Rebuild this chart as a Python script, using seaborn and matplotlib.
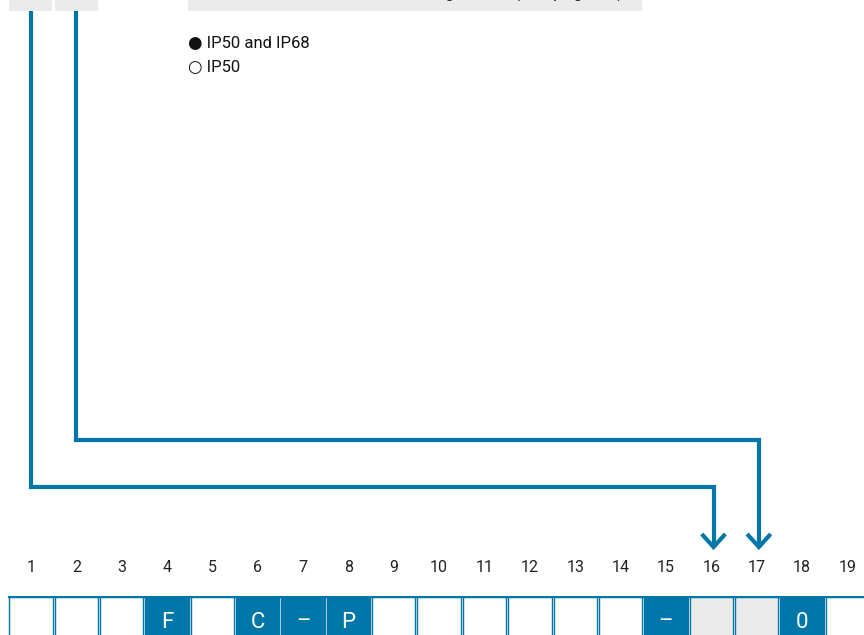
import numpy as np
import pandas as pd
import matplotlib
matplotlib.use("Agg")
import matplotlib.pyplot as plt
from matplotlib.colors import ListedColormap
from matplotlib.patches import Rectangle
import seaborn as sns

# ---- data ----
positions = list(range(1, 20))
cell_text = ["", "", "", "F", "", "C", "–", "P", "", "", "", "", "", "", "–", "", "", "0", ""]
# 0 = empty (white), 1 = selectable (grey), 2 = fixed (blue)
cell_state = [0, 0, 0, 2, 0, 2, 2, 2, 0, 0, 0, 0, 0, 0, 2, 1, 1, 2, 0]
legend_items = ["● IP50 and IP68", "○ IP50"]
header_text = "Housing colour (see page 12)"
source_cells = [1, 2]      # top option boxes
target_cells = [16, 17]    # where the arrows point

BLUE = "#0077a8"
GREY = "#ebebeb"

sns.set_theme(style="white")
plt.rcParams["font.family"] = ["Roboto", "DejaVu Sans"]

W, H = 864, 635
fig = plt.figure(figsize=(W / 100, H / 100), dpi=100)

# overlay axes: x in cell units, y in pixels (top = 0)
cell_px = 45.35
x0_px = 31 - cell_px  # pixel of cell index 0 centre
ax = fig.add_axes([0, 0, 1, 1])
ax.set_xlim((0 - x0_px) / cell_px, (W - x0_px) / cell_px)
ax.set_ylim(H, 0)
ax.axis("off")

# ---- row of code cells as a seaborn heatmap ----
left_px = 31 - cell_px / 2
top_px = 596
box_h = 52
hax = fig.add_axes([left_px / W, (H - top_px - box_h) / H,
                    len(positions) * cell_px / W, box_h / H])
df = pd.DataFrame([cell_state], columns=positions)
annot = np.array([cell_text])
sns.heatmap(df, ax=hax, cmap=ListedColormap(["white", GREY, BLUE]), vmin=-0.5, vmax=2.5,
            cbar=False, annot=annot, fmt="", linewidths=0.8, linecolor="white",
            annot_kws={"color": "white", "fontsize": 16})
inset = 0.022
for j in range(len(positions)):
    hax.add_patch(Rectangle((j + inset, 0), 1 - 2 * inset, 1.2, facecolor="none",
                            edgecolor=BLUE, lw=1.0))
hax.axhline(0, color=BLUE, lw=2.5)
hax.set_xticks([]); hax.set_yticks([])
hax.set_xlabel(""); hax.set_ylabel("")
for sp in hax.spines.values():
    sp.set_visible(False)

# position numbers
for p in positions:
    ax.text(p, 568, str(p), ha="center", va="center", fontsize=11.5, color="#222222")

# top option boxes
for s in source_cells:
    ax.add_patch(Rectangle((s - 0.48, -5), 0.95, 16, facecolor=GREY, edgecolor="none"))
ax.add_patch(Rectangle(((188 - x0_px) / cell_px, -5), (642 - 188) / cell_px, 16,
                       facecolor=GREY, edgecolor="none"))
ax.text((415 - x0_px) / cell_px + 2.0, -2.5, header_text, ha="center", va="baseline",
        fontsize=13, color="#222222")

# legend
for k, t in enumerate(legend_items):
    ax.text((188 - x0_px) / cell_px, 43 + 24 * k, t, ha="left", va="center",
            fontsize=12, color="#111111")

# connector lines with arrows
y_levels = [487, 440]
off = 0.05
for s, t, yl in zip(source_cells, target_cells, y_levels):
    ax.plot([s, s, t + off, t + off], [11, yl, yl, 546], color=BLUE, lw=3,
            solid_joinstyle="miter", solid_capstyle="butt")
    ax.plot([t + off - 0.26, t + off, t + off + 0.26], [534, 547, 534], color=BLUE, lw=3,
            solid_joinstyle="miter", solid_capstyle="butt")

fig.savefig("out.png", dpi=100)
